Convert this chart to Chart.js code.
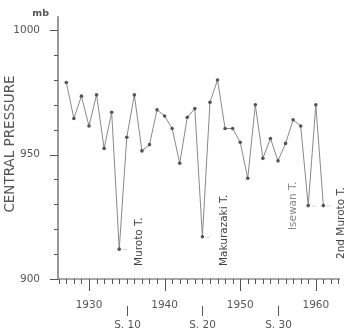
<!DOCTYPE html>
<html>
<head>
<meta charset="utf-8">
<script src="https://cdn.jsdelivr.net/npm/chart.js@4/dist/chart.umd.min.js"></script>
<style>
  html, body { margin: 0; padding: 0; background: #fff; }
  canvas { display: block; }
</style>
</head>
<body>
<canvas id="chart" width="345" height="333"></canvas>
<script>
// Annual minimum central pressure of typhoons (mb)
const years = [1927, 1928, 1929, 1930, 1931, 1932, 1933, 1934, 1935, 1936,
  1937, 1938, 1939, 1940, 1941, 1942, 1943, 1944, 1945, 1946,
  1947, 1948, 1949, 1950, 1951, 1952, 1953, 1954, 1955, 1956,
  1957, 1958, 1959, 1960, 1961]
const pressure = [979, 964.5, 973.5, 961.5, 974, 952.5, 967, 912, 957, 974,
  951.5, 954, 968, 965.5, 960.5, 946.5, 965, 968.5, 917, 971,
  980, 960.5, 960.5, 955, 940.5, 970, 948.5, 956.5, 947.5, 954.5,
  964, 961.5, 929.5, 970, 929.5]

const xTicks = [1930, 1940, 1950, 1960]
const yTicks = [900, 950, 1000]
const showaYears = [1935, 1945, 1955]
const showaLabels = ["S. 10", "S. 20", "S. 30"]

// named typhoons marked at the dips
const stormYears = [1934, 1945, 1959, 1961]
const stormNames = ["Muroto T.", "Makurazaki T.", "Isewan T.", "2nd Muroto T."]

const axisColor = "#555"
const textColor = "#555"

// Draws tick marks, axis lines and the extra labels
const decorations = {
  id: "decorations",
  afterDraw(chart) {
    const ctx = chart.ctx
    const x = chart.scales.x
    const y = chart.scales.y
    const area = chart.chartArea
    ctx.save()
    ctx.strokeStyle = axisColor
    ctx.lineWidth = 1.2

    // axis lines
    ctx.beginPath()
    ctx.moveTo(area.left, area.top)
    ctx.lineTo(area.left, area.bottom)
    ctx.lineTo(area.right, area.bottom)
    ctx.stroke()

    // y ticks every 10 mb
    ctx.lineWidth = 1
    for (let v = 900; v <= 1000; v += 10) {
      const py = Math.round(y.getPixelForValue(v)) + 0.5
      const len = v % 50 === 0 ? 8 : 4
      ctx.beginPath()
      ctx.moveTo(area.left - len, py)
      ctx.lineTo(area.left, py)
      ctx.stroke()
    }

    // x ticks every year
    for (let yr = 1926; yr <= 1963; yr++) {
      const px = Math.round(x.getPixelForValue(yr)) + 0.5
      const len = yr % 10 === 0 ? 12 : 5
      ctx.beginPath()
      ctx.moveTo(px, area.bottom)
      ctx.lineTo(px, area.bottom + len)
      ctx.stroke()
    }

    // unit
    ctx.fillStyle = textColor
    ctx.font = "bold 9.5px 'DejaVu Sans'"
    ctx.textAlign = "right"
    ctx.textBaseline = "middle"
    ctx.fillText("mb", area.left - 9, 14)

    // Showa era markers
    ctx.font = "10.5px 'DejaVu Sans'"
    ctx.textAlign = "center"
    showaYears.forEach((yr, i) => {
      const px = Math.round(x.getPixelForValue(yr)) + 0.5
      ctx.beginPath()
      ctx.moveTo(px, 306)
      ctx.lineTo(px, 316)
      ctx.stroke()
      ctx.fillText(showaLabels[i], px, 325)
    })

    // y axis title
    ctx.save()
    ctx.translate(10, 144)
    ctx.rotate(-Math.PI / 2)
    ctx.font = "13.5px 'DejaVu Sans'"
    ctx.fillStyle = textColor
    ctx.textAlign = "center"
    ctx.textBaseline = "middle"
    ctx.fillText("CENTRAL PRESSURE", 0, 0)
    ctx.restore()

    // storm names, rotated, reading upward
    const nameX = [139, 224, 293, 341]
    const nameBottom = [266, 266, 230, 259]
    const nameColor = ["#444", "#444", "#888", "#444"]
    stormYears.forEach((yr, i) => {
      const idx = years.indexOf(yr)
      const px = x.getPixelForValue(yr)
      const py = y.getPixelForValue(pressure[idx])
      // small leader dots next to the dip
      ctx.fillStyle = "#aaa"
      ctx.fillRect(px + 4, py, 1, 1)
      ctx.fillRect(px + 6, py, 1, 1)

      ctx.save()
      ctx.translate(nameX[i], nameBottom[i])
      ctx.rotate(-Math.PI / 2)
      ctx.font = "10.5px 'DejaVu Sans'"
      ctx.fillStyle = nameColor[i]
      ctx.textAlign = "left"
      ctx.textBaseline = "middle"
      ctx.fillText(stormNames[i], 0, 0)
      ctx.restore()
    })

    ctx.restore()
  }
}

new Chart(document.getElementById("chart"), {
  type: "line",
  data: {
    datasets: [{
      data: years.map((yr, i) => ({ x: yr, y: pressure[i] })),
      borderColor: "#888",
      borderWidth: 1,
      pointRadius: 1.8,
      pointBackgroundColor: "#555",
      pointBorderWidth: 0,
      tension: 0,
    }],
  },
  options: {
    responsive: false,
    animation: false,
    layout: { padding: { top: 15, right: 5, left: 0, bottom: 0 } },
    plugins: { legend: { display: false }, tooltip: { enabled: false } },
    scales: {
      x: {
        type: "linear",
        min: 1925.9,
        max: 1963.2,
        afterBuildTicks: (s) => { s.ticks = xTicks.map((v) => ({ value: v })) },
        afterFit: (s) => { s.height = 54 },
        grid: { display: false },
        border: { display: false },
        ticks: {
          padding: 12,
          maxRotation: 0,
          color: textColor,
          font: { family: "DejaVu Sans", size: 10.5 },
          callback: (v) => String(v),
        },
      },
      y: {
        min: 900,
        max: 1005.6,
        afterBuildTicks: (s) => { s.ticks = yTicks.map((v) => ({ value: v })) },
        afterFit: (s) => { s.width = 58 },
        grid: { display: false },
        border: { display: false },
        ticks: {
          padding: 10,
          color: textColor,
          font: { family: "DejaVu Sans", size: 10.5 },
          callback: (v) => String(v),
        },
      },
    },
  },
  plugins: [decorations],
})
</script>
</body>
</html>
